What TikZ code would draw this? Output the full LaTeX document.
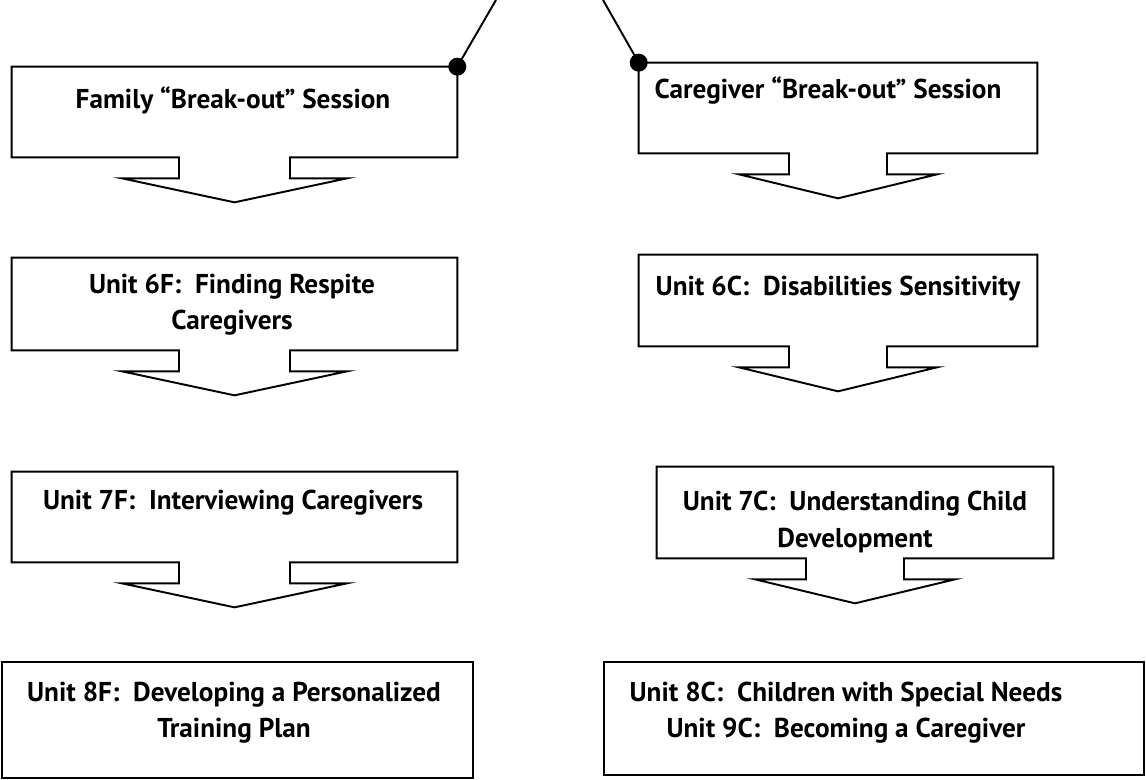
\documentclass[tikz,border=0pt]{standalone}
\usepackage{fontspec}
\setmainfont{PT Sans}
\usetikzlibrary{calc}

\tikzset{
  outline/.style={line width=1.1pt, line join=miter},
  frame/.style={rectangle, inner sep=0pt},
  caption/.style={align=center, font=\bfseries\fontsize{15.5}{20.5}\selectfont}
}

% outline of a box with a downward arrow under it:
% node, shaft half-width, wing half-width
\newcommand{\arrowbox}[3]{%
  \draw[outline] (#1.south west) -- (#1.north west) -- (#1.north east) -- (#1.south east)
    -- ($(#1.south)+(#2,0)$) -- ($(#1.south)+(#2,21)$) -- ($(#1.south)+(#3,21)$)
    -- ($(#1.south)+(0,45)$)
    -- ($(#1.south)+(-#3,21)$) -- ($(#1.south)+(-#2,21)$) -- ($(#1.south)+(-#2,0)$) -- cycle;}

\begin{document}
\begin{tikzpicture}[x=0.02cm, y=-0.02cm]
  \useasboundingbox (0,0) rectangle (1146,780);

  % family track
  \node[frame, minimum width=8.9cm, minimum height=1.8cm] (fam) at (234.5,112) {};
  \node[frame, minimum width=8.9cm, minimum height=1.84cm] (u6f) at (234.5,304) {};
  \node[frame, minimum width=8.9cm, minimum height=1.8cm] (u7f) at (234.5,517) {};
  \node[frame, draw, outline, minimum width=9.42cm, minimum height=2.32cm] (u8f) at (237.5,720) {};

  % caregiver track
  \node[frame, minimum width=7.96cm, minimum height=1.8cm] (care) at (838,108) {};
  \node[frame, minimum width=7.96cm, minimum height=1.82cm] (u6c) at (838,300.5) {};
  \node[frame, minimum width=7.92cm, minimum height=1.82cm] (u7c) at (855,512.5) {};
  \node[frame, draw, outline, minimum width=10.8cm, minimum height=2.26cm] (u8c) at (874,718.5) {};

  \arrowbox{fam}{55.5}{112.5}
  \arrowbox{u6f}{55.5}{112.5}
  \arrowbox{u7f}{55.5}{112.5}
  \arrowbox{care}{49}{99}
  \arrowbox{u6c}{49}{99}
  \arrowbox{u7c}{49}{100}

  \node[caption] (famtxt) at (233,100) {Family “Break-out” Session};
  \node[caption] (u6ftxt) at (232,305) {Unit 6F:\ \ Finding Respite\\Caregivers};
  \node[caption] (u7ftxt) at (233,503) {Unit 7F:\ \ Interviewing Caregivers};
  \node[caption] (u8ftxt) at (234,713) {Unit 8F:\ \ Developing a Personalized\\Training Plan};
  \node[caption] (caretxt) at (828,91) {Caregiver “Break-out” Session};
  \node[caption] (u6ctxt) at (838,289) {Unit 6C:\ \ Disabilities Sensitivity};
  \node[caption] (u7ctxt) at (855,522) {Unit 7C:\ \ Understanding Child\\Development};
  \node[caption] (u8ctxt) at (846,713) {Unit 8C:\ \ Children with Special Needs\\Unit 9C:\ \ Becoming a Caregiver};

  % lines coming in from above
  \coordinate (famin) at (496,0);
  \coordinate (carein) at (603,0);
  \begin{scope}[outline]
    \draw (famin) -- (fam.north east);
    \draw (carein) -- (care.north west);
    \fill (fam.north east) circle (0.18cm);
    \fill (care.north west) circle (0.18cm);
  \end{scope}
\end{tikzpicture}
\end{document}
